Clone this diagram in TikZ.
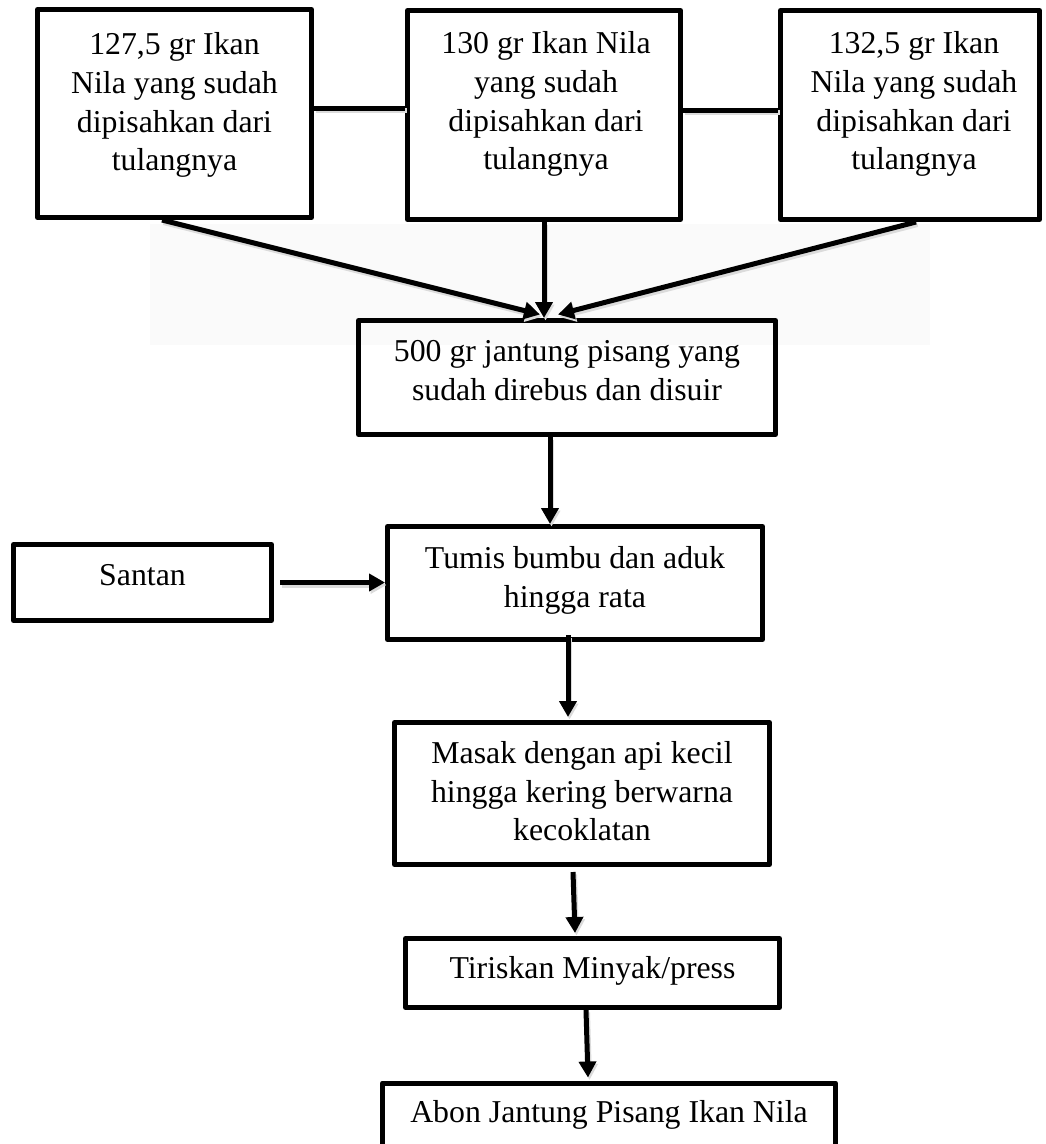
\documentclass[tikz,border=0pt]{standalone}
\usepackage{fontspec}
\setmainfont{Liberation Serif}
\usetikzlibrary{arrows.meta,calc}
\begin{document}
\begin{tikzpicture}[x=1pt,y=-1pt,
  box/.style={draw=black, line width=5pt, line join=round, rectangle, inner sep=0pt, outer sep=2.5pt},
  txt/.style={font=\fontsize{31.8}{38.8}\selectfont, align=center, inner sep=0pt, anchor=north},
  tip/.style={-{Triangle[length=16pt,width=17pt]}},
  conn/.style={line width=5pt, tip,
    preaction={draw=black!14, line width=5pt, tip, transform canvas={shift={(1.5pt,-2.5pt)}}}},
  link/.style={line width=5pt,
    preaction={draw=black!14, line width=5pt, transform canvas={shift={(1.5pt,-2.5pt)}}}}
]
\useasboundingbox (0,0) rectangle (1045,1144);
\clip (0,0) rectangle (1045,1144);
\fill[black!2] (150,224) rectangle (930,345);

% boxes
\node[box, minimum width=274pt, minimum height=208pt] (b1) at (174.5,113.5) {};
\node[box, minimum width=273pt, minimum height=209pt] (b2) at (544,115) {};
\node[box, minimum width=259pt, minimum height=209pt] (b3) at (910,115) {};
\node[box, minimum width=417pt, minimum height=114pt] (b4) at (567,377.5) {};
\node[box, minimum width=258pt, minimum height=76pt] (santan) at (142.5,582.5) {};
\node[box, minimum width=375pt, minimum height=113pt] (tumis) at (575,583) {};
\node[box, minimum width=375pt, minimum height=142pt] (masak) at (582,793.5) {};
\node[box, minimum width=374pt, minimum height=69pt] (tiris) at (592.5,973) {};
\node[box, minimum width=453pt, minimum height=64pt] (abon) at (609,1115) {};

% texts
\node[txt] (t1) at (174.5,32.3) {127,5 gr Ikan\\Nila yang sudah\\dipisahkan dari\\tulangnya};
\node[txt] (t2) at (546,31.3) {130 gr Ikan Nila\\yang sudah\\dipisahkan dari\\tulangnya};
\node[txt] (t3) at (914,31.3) {132,5 gr Ikan\\Nila yang sudah\\dipisahkan dari\\tulangnya};
\node[txt] (t4) at (567,340) {500 gr jantung pisang yang\\sudah direbus dan disuir};
\node[txt] (t5) at (142.5,564.5) {Santan};
\node[txt] (t6) at (575,546.5) {Tumis bumbu dan aduk\\hingga rata};
\node[txt] (t7) at (582,741) {Masak dengan api kecil\\hingga kering berwarna\\kecoklatan};
\node[txt] (t8) at (592.5,956) {Tiriskan Minyak/press};
\node[txt] (t9) at (609,1100) {Abon Jantung Pisang Ikan Nila};

% horizontal links between top boxes
\coordinate (h1) at ([yshift=5.5pt]b1.east);
\draw[link] (h1) -- (h1 -| b2.west);
\coordinate (h2) at ([yshift=5pt]b2.east);
\draw[link] (h2) -- (h2 -| b3.west);

% arrows into the 500 gr box
\draw[conn] ([xshift=-12.5pt]b1.south) -- ([xshift=-27pt,yshift=3.5pt]b4.north);
\draw[conn] (b2.south) -- (b2.south |- b4.north);
\draw[conn] ([xshift=6pt]b3.south) -- ([xshift=-9pt,yshift=3.5pt]b4.north);

% main flow
\coordinate (a4) at ([xshift=-17pt]b4.south);
\draw[conn] (a4) -- (a4 |- tumis.north);
\coordinate (sa) at ([xshift=6pt]santan.east);
\draw[conn] (sa) -- (sa -| tumis.west);
\coordinate (a5) at ([xshift=-7pt,yshift=7pt]tumis.south);
\draw[conn] (a5) -- ([yshift=3pt]a5 |- masak.north);
\draw[conn] ([xshift=-9pt,yshift=-5pt]masak.south) -- ([xshift=-17.5pt,yshift=3pt]tiris.north);
\draw[conn] ([xshift=-6.5pt]tiris.south) -- ([xshift=-21pt,yshift=3pt]abon.north);
\end{tikzpicture}
\end{document}
